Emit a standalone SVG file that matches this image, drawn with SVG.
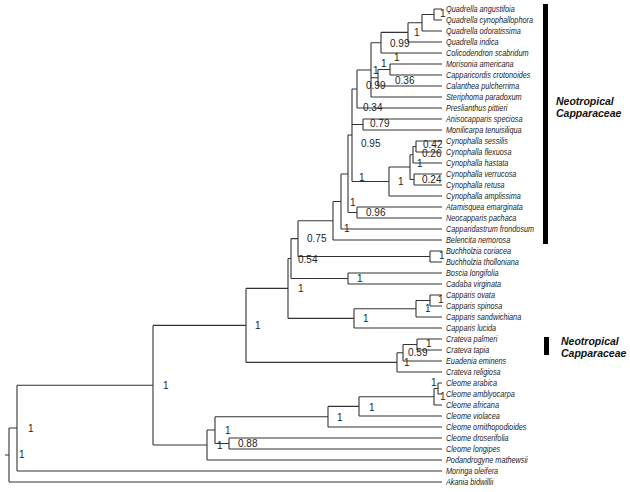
<svg xmlns="http://www.w3.org/2000/svg" width="630" height="492" viewBox="0 0 630 492">
<style>
.br{fill:none;stroke:#333;stroke-width:1.1}
.tip{font-family:"Liberation Sans",Arial,sans-serif;font-style:italic;font-size:9px;fill:#222}
.sup{font-family:"Liberation Sans",Arial,sans-serif;font-size:10px;fill:#222}
.clade{font-family:"Liberation Sans",Arial,sans-serif;font-style:italic;font-weight:bold;font-size:10.5px;fill:#111}
.bar{fill:#000}
</style>
<rect width="630" height="492" fill="#fff"/>
<g id="connectors">
<path class="br" d="M434 9V20M434 9H442M434 20H442
M422 14.5V31M422 14.5H434M422 31H442
M408 22.75V42M408 22.75H422M408 42H442
M381 32.4V53M381 32.4H408M381 53H442
M390 64V75M390 64H442M390 75H442
M378 69.5V86M378 69.5H390M378 86H442
M371 42.7V97M371 42.7H381M371 77.75H378M371 97H442
M357 70V108M357 70H371M357 108H442
M363 119V130M363 119H442M363 130H442
M416 141V152M416 141H442M416 152H442
M413 146.5V163M413 146.5H416M413 163H442
M414 174V185M414 174H442M414 185H442
M410 154.75V179.5M410 154.75H413M410 179.5H414
M389 167V196M389 167H410M389 196H442
M352 89V181.5M352 89H357M352 124.5H363M352 181.5H389
M357 207V218M357 207H442M357 218H442
M348 135V212.5M348 135H352M348 212.5H357
M341 174V229M341 174H348M341 229H442
M333 201.5V240M333 201.5H341M333 240H442
M430 251V262M430 251H442M430 262H442
M298 220.75V256.5M298 220.75H333M298 256.5H430
M348 273V284M348 273H442M348 284H442
M291 238.6V278.5M291 238.6H298M291 278.5H348
M430 295V306M430 295H442M430 306H442
M416 300.5V317M416 300.5H430M416 317H442
M354 308.75V328M354 308.75H416M354 328H442
M288 258.5V318.4M288 258.5H291M288 318.4H354
M417 339V350M417 339H442M417 350H442
M403 344.5V361M403 344.5H417M403 361H442
M397 352.75V372M397 352.75H403M397 372H442
M246 288.4V362.4M246 288.4H288M246 362.4H397
M438 383V394M438 383H442M438 394H442
M434 388.5V405M434 388.5H438M434 405H442
M359 396.75V416M359 396.75H434M359 416H442
M328 406.4V427M328 406.4H359M328 427H442
M229 438V449M229 438H442M229 449H442
M215 416.7V443.5M215 416.7H328M215 443.5H229
M207 430V460M207 430H215M207 460H442
M153 325.4V445M153 325.4H246M153 445H207
M17 385.2V471M17 385.2H153M17 471H442
M9 428V482M9 428H17M9 482H442
M5 455H9"/>
</g>
<g id="taxa" transform="translate(446 0) scale(0.81 1)">
<g id="t00"><text class="tip" x="0" y="12">Quadrella angustifoia</text></g>
<g id="t01"><text class="tip" x="0" y="23">Quadrella cynophallophora</text></g>
<g id="t02"><text class="tip" x="0" y="34">Quadrella odoratissima</text></g>
<g id="t03"><text class="tip" x="0" y="45">Quadrella indica</text></g>
<g id="t04"><text class="tip" x="0" y="56">Colicodendron scabridum</text></g>
<g id="t05"><text class="tip" x="0" y="67">Morisonia americana</text></g>
<g id="t06"><text class="tip" x="0" y="78">Capparicordis crotonoides</text></g>
<g id="t07"><text class="tip" x="0" y="89">Calanthea pulcherrima</text></g>
<g id="t08"><text class="tip" x="0" y="100">Steriphoma paradoxum</text></g>
<g id="t09"><text class="tip" x="0" y="111">Preslianthus pittieri</text></g>
<g id="t10"><text class="tip" x="0" y="122">Anisocapparis speciosa</text></g>
<g id="t11"><text class="tip" x="0" y="133">Monilicarpa tenuisiliqua</text></g>
<g id="t12"><text class="tip" x="0" y="144">Cynophalla sessilis</text></g>
<g id="t13"><text class="tip" x="0" y="155">Cynophalla flexuosa</text></g>
<g id="t14"><text class="tip" x="0" y="166">Cynophalla hastata</text></g>
<g id="t15"><text class="tip" x="0" y="177">Cynophalla verrucosa</text></g>
<g id="t16"><text class="tip" x="0" y="188">Cynophalla retusa</text></g>
<g id="t17"><text class="tip" x="0" y="199">Cynophalla amplissima</text></g>
<g id="t18"><text class="tip" x="0" y="210">Atamisquea emarginata</text></g>
<g id="t19"><text class="tip" x="0" y="221">Neocapparis pachaca</text></g>
<g id="t20"><text class="tip" x="0" y="232">Capparidastrum frondosum</text></g>
<g id="t21"><text class="tip" x="0" y="243">Belencita nemorosa</text></g>
<g id="t22"><text class="tip" x="0" y="254">Buchholzia coriacea</text></g>
<g id="t23"><text class="tip" x="0" y="265">Buchholzia tholloniana</text></g>
<g id="t24"><text class="tip" x="0" y="276">Boscia longifolia</text></g>
<g id="t25"><text class="tip" x="0" y="287">Cadaba virginata</text></g>
<g id="t26"><text class="tip" x="0" y="298">Capparis ovata</text></g>
<g id="t27"><text class="tip" x="0" y="309">Capparis spinosa</text></g>
<g id="t28"><text class="tip" x="0" y="320">Capparis sandwichiana</text></g>
<g id="t29"><text class="tip" x="0" y="331">Capparis lucida</text></g>
<g id="t30"><text class="tip" x="0" y="342">Crateva palmeri</text></g>
<g id="t31"><text class="tip" x="0" y="353">Crateva tapia</text></g>
<g id="t32"><text class="tip" x="0" y="364">Euadenia eminens</text></g>
<g id="t33"><text class="tip" x="0" y="375">Crateva religiosa</text></g>
<g id="t34"><text class="tip" x="0" y="386">Cleome arabica</text></g>
<g id="t35"><text class="tip" x="0" y="397">Cleome amblyocarpa</text></g>
<g id="t36"><text class="tip" x="0" y="408">Cleome africana</text></g>
<g id="t37"><text class="tip" x="0" y="419">Cleome violacea</text></g>
<g id="t38"><text class="tip" x="0" y="430">Cleome ornithopodioides</text></g>
<g id="t39"><text class="tip" x="0" y="441">Cleome droserifolia</text></g>
<g id="t40"><text class="tip" x="0" y="452">Cleome longipes</text></g>
<g id="t41"><text class="tip" x="0" y="463">Podandrogyne mathewsii</text></g>
<g id="t42"><text class="tip" x="0" y="474">Moringa oleifera</text></g>
<g id="t43"><text class="tip" x="0" y="485">Akania bidwillii</text></g>
</g>
<g id="support">
<g id="n01"><text class="sup" x="440" y="17">1</text></g>
<g id="n02"><text class="sup" x="414" y="36">1</text></g>
<g id="n03"><text class="sup" x="390" y="47">0.99</text></g>
<g id="n04"><text class="sup" x="394" y="61">1</text></g>
<g id="n05"><text class="sup" x="395" y="84">0.36</text></g>
<g id="n06"><text class="sup" x="381" y="67">1</text></g>
<g id="n07"><text class="sup" x="373" y="74">1</text></g>
<g id="n08"><text class="sup" x="366" y="89">0.99</text></g>
<g id="n09"><text class="sup" x="363" y="111">0.34</text></g>
<g id="n10"><text class="sup" x="370" y="127">0.79</text></g>
<g id="n11"><text class="sup" x="361" y="147">0.95</text></g>
<g id="n12"><text class="sup" x="423" y="148">0.42</text></g>
<g id="n13"><text class="sup" x="422" y="157">0.26</text></g>
<g id="n14"><text class="sup" x="417" y="167">1</text></g>
<g id="n15"><text class="sup" x="422" y="183">0.24</text></g>
<g id="n16"><text class="sup" x="359" y="181">1</text></g>
<g id="n17"><text class="sup" x="398" y="185">1</text></g>
<g id="n18"><text class="sup" x="350" y="206">1</text></g>
<g id="n19"><text class="sup" x="366" y="216">0.96</text></g>
<g id="n20"><text class="sup" x="344" y="232">1</text></g>
<g id="n21"><text class="sup" x="307" y="242">0.75</text></g>
<g id="n22"><text class="sup" x="298" y="263">0.54</text></g>
<g id="n23"><text class="sup" x="439" y="259">1</text></g>
<g id="n24"><text class="sup" x="357" y="282">1</text></g>
<g id="n25"><text class="sup" x="298" y="292">1</text></g>
<g id="n26"><text class="sup" x="438" y="303">1</text></g>
<g id="n27"><text class="sup" x="425" y="312">1</text></g>
<g id="n28"><text class="sup" x="363" y="322">1</text></g>
<g id="n29"><text class="sup" x="255" y="329">1</text></g>
<g id="n30"><text class="sup" x="426" y="347">1</text></g>
<g id="n31"><text class="sup" x="408" y="356">0.59</text></g>
<g id="n32"><text class="sup" x="404" y="366">1</text></g>
<g id="n33"><text class="sup" x="431" y="386">1</text></g>
<g id="n34"><text class="sup" x="440" y="400">1</text></g>
<g id="n35"><text class="sup" x="369" y="411">1</text></g>
<g id="n36"><text class="sup" x="337" y="421">1</text></g>
<g id="n37"><text class="sup" x="225" y="434">1</text></g>
<g id="n38"><text class="sup" x="238" y="447">0.88</text></g>
<g id="n39"><text class="sup" x="217" y="449">1</text></g>
<g id="n40"><text class="sup" x="163" y="389">1</text></g>
<g id="n41"><text class="sup" x="28" y="432">1</text></g>
<g id="n42"><text class="sup" x="19" y="458">1</text></g>
</g>
<g id="clade-neotropical-1">
<rect class="bar" x="543" y="4" width="5" height="240"/>
<text class="clade" x="556" y="105">Neotropical</text>
<text class="clade" x="556" y="117">Capparaceae</text>
</g>
<g id="clade-neotropical-2">
<rect class="bar" x="544" y="337" width="5" height="18"/>
<text class="clade" x="561" y="345">Neotropical</text>
<text class="clade" x="561" y="357">Capparaceae</text>
</g>
</svg>
